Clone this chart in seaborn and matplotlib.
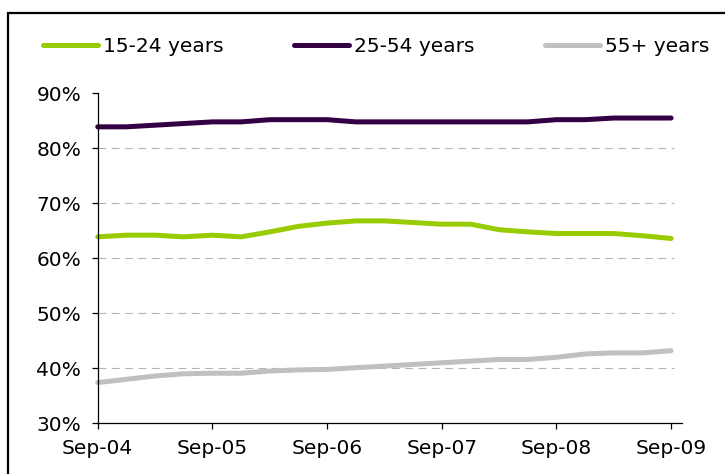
import matplotlib
matplotlib.use("Agg")
import matplotlib.pyplot as plt
from matplotlib.patches import Rectangle
import numpy as np
import pandas as pd
import seaborn as sns

# Quarterly observations, Sep-04 to Sep-09
quarters = ["Sep-04", "Dec-04", "Mar-05", "Jun-05", "Sep-05", "Dec-05", "Mar-06",
            "Jun-06", "Sep-06", "Dec-06", "Mar-07", "Jun-07", "Sep-07", "Dec-07",
            "Mar-08", "Jun-08", "Sep-08", "Dec-08", "Mar-09", "Jun-09", "Sep-09"]

age_15_24 = [63.9, 64.2, 64.2, 63.9, 64.2, 63.9, 64.8, 65.8, 66.4, 66.8, 66.8,
             66.5, 66.2, 66.2, 65.2, 64.8, 64.5, 64.5, 64.5, 64.1, 63.6]
age_25_54 = [83.9, 83.9, 84.2, 84.5, 84.8, 84.8, 85.2, 85.2, 85.2, 84.8, 84.8,
             84.8, 84.8, 84.8, 84.8, 84.8, 85.2, 85.2, 85.5, 85.5, 85.5]
age_55_plus = [37.4, 38.0, 38.6, 39.0, 39.1, 39.1, 39.5, 39.7, 39.8, 40.1, 40.4,
               40.7, 41.0, 41.3, 41.6, 41.6, 42.0, 42.6, 42.8, 42.8, 43.2]

series_names = ["15-24 years", "25-54 years", "55+ years"]
series_colors = ["#99CC00", "#330044", "#C0C0C0"]

year_ticks = ["Sep-04", "Sep-05", "Sep-06", "Sep-07", "Sep-08", "Sep-09"]
pct_ticks = [30, 40, 50, 60, 70, 80, 90]

df = pd.DataFrame({
    "q": np.tile(np.arange(len(quarters)), 3),
    "rate": age_15_24 + age_25_54 + age_55_plus,
    "group": np.repeat(series_names, len(quarters)),
})

sns.set_theme(style="white")
plt.rcParams["font.family"] = ["DejaVu Sans"]
plt.rcParams["text.color"] = "black"
FS = 14.5

fig = plt.figure(figsize=(7.25, 4.74), dpi=100)
ax = fig.add_axes([0.1348, 0.107, 0.8055, 0.6962])

sns.lineplot(data=df, x="q", y="rate", hue="group", hue_order=series_names,
             palette=series_colors, linewidth=3.6, ax=ax, legend=False,
             solid_capstyle="round", clip_on=False)

ax.set_xlim(0, 20.37)
ax.set_ylim(30, 90)

# dashed horizontal gridlines
for v in pct_ticks[1:-1]:
    ax.plot([0, 20.1], [v, v], color="#b4b4b4", lw=0.8,
            linestyle=(0, (7, 5)), zorder=0.5)

ax.set_xticks([quarters.index(t) for t in year_ticks])
ax.set_xticklabels(year_ticks)
ax.set_yticks(pct_ticks)
ax.set_yticklabels([f"{v}%" for v in pct_ticks])
ax.set_xlabel("")
ax.set_ylabel("")

for s in ["top", "right"]:
    ax.spines[s].set_visible(False)
for s in ["left", "bottom"]:
    ax.spines[s].set_color("#000000")
    ax.spines[s].set_linewidth(0.9)

ax.tick_params(axis="both", which="major", direction="out", colors="black",
               labelsize=FS, width=0.9)
ax.tick_params(axis="y", length=4, pad=8)
ax.tick_params(axis="x", length=4.5, pad=7)
ax.tick_params(axis="x", bottom=True)
ax.tick_params(axis="y", left=True)

handles = [plt.Line2D([], [], color=c, lw=3.6, solid_capstyle="round")
           for c in series_colors]
fig.legend(handles, series_names, loc="center left",
           bbox_to_anchor=(43 / 725, 0.9015), ncol=3, frameon=False,
           fontsize=FS, handlelength=2.73, handletextpad=0.25,
           columnspacing=3.5, borderpad=0, borderaxespad=0,
           labelcolor="black")

# outer chart border
fig.patches.append(Rectangle((7.5 / 725, -0.2), 1.2, 0.972 + 0.2,
                             transform=fig.transFigure, fill=False,
                             edgecolor="black", lw=1.6, clip_on=False))

fig.savefig("out.png", dpi=100)
